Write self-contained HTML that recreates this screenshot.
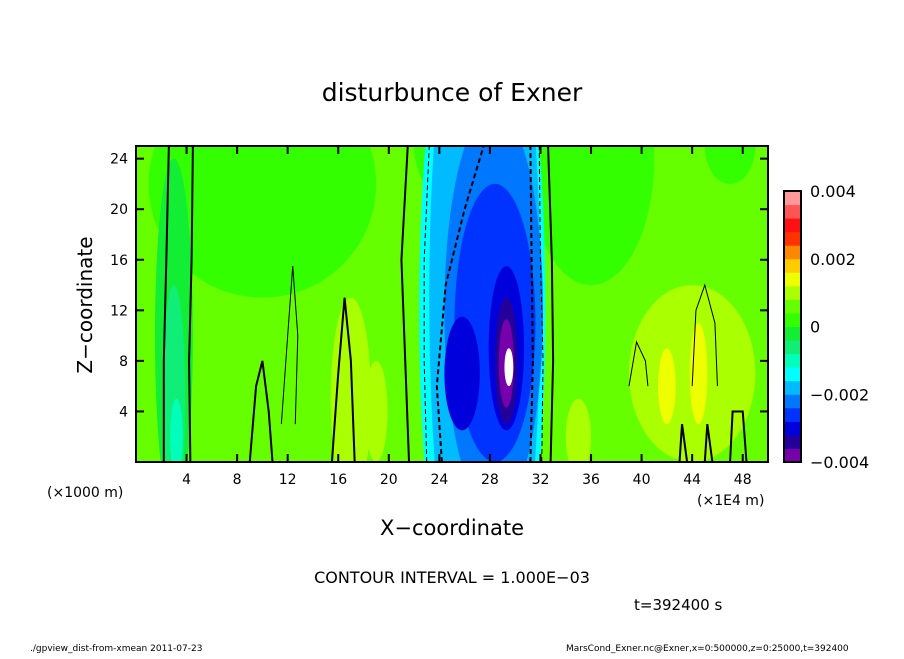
<!DOCTYPE html>
<html><head><meta charset="utf-8"><style>
body{margin:0;background:#fff;}
text{font-family:"DejaVu Sans","Liberation Sans",sans-serif;fill:#000;}
</style></head><body>
<svg id="chart" width="904" height="654" viewBox="0 0 904 654" xmlns="http://www.w3.org/2000/svg">
<defs><clipPath id="clip"><rect x="136" y="146" width="632" height="316"/></clipPath></defs>
<text x="452" y="101" font-size="25" text-anchor="middle">disturbunce of Exner</text>
<g id="field" clip-path="url(#clip)"></g>
<g id="lines" clip-path="url(#clip)" fill="none" stroke="#000"></g>
<rect x="136" y="146" width="632" height="316" fill="none" stroke="#000" stroke-width="2"/>
<g id="axes"></g>
<text transform="translate(92,305) rotate(-90)" font-size="20" text-anchor="middle">Z−coordinate</text>
<text x="452" y="535" font-size="21" text-anchor="middle">X−coordinate</text>
<text x="47" y="497" font-size="14">(×1000 m)</text>
<text x="697" y="505" font-size="14">(×1E4 m)</text>
<text x="452" y="583" font-size="16" text-anchor="middle">CONTOUR INTERVAL = 1.000E−03</text>
<text x="634" y="610" font-size="15">t=392400 s</text>
<text x="30" y="651" font-size="9">./gpview_dist-from-xmean  2011-07-23</text>
<text x="566" y="651" font-size="9">MarsCond_Exner.nc@Exner,x=0:500000,z=0:25000,t=392400</text>
<g id="cbar"></g>
</svg>
<script>
const xTicks=[4,8,12,16,20,24,28,32,36,40,44,48];
const zTicks=[4,8,12,16,20,24];
const levelColors=["#7700aa","#220099","#0000dd","#0033ff","#0077ff","#00bbff","#00ffff","#00ffbb","#11ee77","#11ee33","#33ff00","#66ff00","#aaff00","#eeff00","#ffcc00","#ff8800","#ff3300","#ff1111","#ff5555","#ff9999"];
const cbarLabels=["-0.004","-0.002","0","0.002","0.004"];
const cbarLabelText=["−0.004","−0.002","0","0.002","0.004"];
// blobs: x, z centre, x radius, z radius (data units), level index
const blobX=[10,36,47,3,3,3.2,17,19,28,44,44.5,42,30,35,27.4,27.6,28.3,28.4,25.8,29.3,25.8,29.3,29.3,29.5];
const blobZ=[22,24,25,10,5,2,5,4,25,7,7,6,3,2,12,13,12,11,7,9,7,8,7.8,7.5];
const blobRX=[9,5,2,1.5,0.9,0.5,1.6,0.9,6,5,0.7,0.7,1.5,1,5,4.4,3.9,3.2,1.4,1.4,0.9,0.9,0.6,0.35];
const blobRZ=[9,10,3,14,9,3,8,4,6,7,4,3,4,3,30,30,16,11,4.5,6.5,3,5,3.5,1.5];
const blobLevel=[10,10,10,9,8,7,12,12,10,12,13,13,12,12,6,5,4,3,2,2,2,1,0,-1];
// zero contour lines (x, z pairs)
const zeroLines=[
 [[2.2,0],[2.2,8],[2.4,16],[2.6,25]],
 [[4.3,0],[4.2,8],[4.4,16],[4.5,25]],
 [[21.6,0],[21.3,8],[21,16],[21.5,25]],
 [[32.8,0],[33,8],[32.9,16],[32.6,25]],
 [[15.5,0],[16,7],[16.5,13],[17,8],[17.3,0]],
 [[9,0],[9.5,6],[10,8],[10.5,4],[10.8,0]],
 [[43,0],[43.2,3],[43.6,0]],[[45,0],[45.2,3],[45.6,0]],[[47,0],[47.2,4],[48,4],[48.3,0]]];
const thinLines=[[[11.5,3],[12,10],[12.4,15.5],[12.8,10],[12.6,3]],[[44,6],[44.3,12],[45,14],[45.8,11],[46,6]],[[39,6],[39.6,9.5],[40.3,8],[40.5,6]]];
const dashLines=[[[24.2,0],[23.8,6],[24.5,14],[26,20],[27.5,25]],[[31.2,0],[31.4,8],[31.3,16],[31.2,25]],[[23,0],[22.8,8],[22.8,16],[23.2,25]],[[32.1,0],[32.2,8],[32,16],[31.9,25]]];
const X0=136,X1=768,Y0=462,Y1=146;
const xs=v=>X0+v/50*(X1-X0), zs=v=>Y0-v/25*(Y0-Y1);
const NS="http://www.w3.org/2000/svg";
function mk(t,a,p){const e=document.createElementNS(NS,t);for(const k in a)e.setAttribute(k,a[k]);p.appendChild(e);return e;}
const field=document.getElementById('field');
const bg=mk('rect',{x:X0,y:Y1,width:X1-X0,height:Y0-Y1,fill:levelColors[11]},field);


blobX.forEach((bx,i)=>{
 const col=blobLevel[i]<0?"#ffffff":levelColors[blobLevel[i]];
 const e=mk('ellipse',{cx:xs(bx),cy:zs(blobZ[i]),rx:blobRX[i]/50*(X1-X0),ry:blobRZ[i]/25*(Y0-Y1),fill:col},field);
 
 
});
const lines=document.getElementById('lines');
const pts=l=>l.map(p=>xs(p[0])+','+zs(p[1])).join(' ');
zeroLines.forEach(l=>{const e=mk('polyline',{points:pts(l),'stroke-width':2},lines);
 
 });
thinLines.forEach(l=>{const e=mk('polyline',{points:pts(l),'stroke-width':1},lines);
 
 });
dashLines.forEach((l,i)=>{const e=mk('polyline',{points:pts(l),'stroke-width':i<2?2:1,'stroke-dasharray':'5,3'},lines);
 
 });
const axes=document.getElementById('axes');
xTicks.forEach(t=>{
 mk('line',{x1:xs(t),x2:xs(t),y1:Y0,y2:Y0-8,stroke:'#000','stroke-width':2},axes);
 mk('line',{x1:xs(t),x2:xs(t),y1:Y1,y2:Y1+8,stroke:'#000','stroke-width':2},axes);
 const tx=mk('text',{x:xs(t),y:Y0+22,'font-size':14,'text-anchor':'middle'},axes);tx.textContent=t;
 
 
});
zTicks.forEach(t=>{
 mk('line',{x1:X0,x2:X0+8,y1:zs(t),y2:zs(t),stroke:'#000','stroke-width':2},axes);
 mk('line',{x1:X1,x2:X1-8,y1:zs(t),y2:zs(t),stroke:'#000','stroke-width':2},axes);
 const tx=mk('text',{x:X0-8,y:zs(t)+5,'font-size':14,'text-anchor':'end'},axes);tx.textContent=t;
 
 
});
const cb=document.getElementById('cbar');
const CX=784,CW=17,CT=191,CB=462,h=(CB-CT)/levelColors.length;
levelColors.forEach((c,i)=>{const r=mk('rect',{x:CX,y:CB-(i+1)*h,width:CW,height:h+0.5,fill:c},cb);
 
 });
mk('rect',{x:CX,y:CT,width:CW,height:CB-CT,fill:'none',stroke:'#000','stroke-width':2},cb);
cbarLabels.forEach((v,i)=>{const y=CB-(parseFloat(v)+0.004)/0.008*(CB-CT);
 const t=mk('text',{x:810,y:y+6,'font-size':16},cb);t.textContent=cbarLabelText[i];
 
 });
</script>
</body></html>
